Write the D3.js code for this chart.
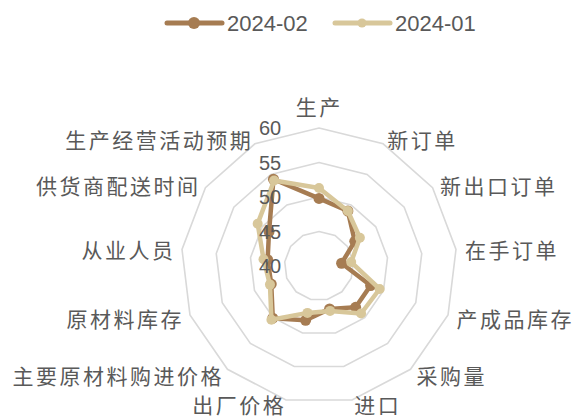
<!DOCTYPE html>
<html>
<head>
<meta charset="utf-8">
<script src="https://cdn.jsdelivr.net/npm/d3@7"></script>
<style>
  html, body { margin: 0; padding: 0; background: #ffffff; }
  svg { display: block; }
</style>
</head>
<body>
<svg id="chart" width="573" height="419"></svg>
<script>
const categories = ['生产','新订单','新出口订单','在手订单','产成品库存','采购量','进口','出厂价格','主要原材料购进价格','原材料库存','从业人员','供货商配送时间','生产经营活动预期'];
const seriesNames = ['2024-02', '2024-01'];
const feb2024 = [49.8, 49.0, 46.3, 43.3, 48.0, 48.0, 46.4, 48.1, 50.1, 47.4, 47.5, 48.8, 54.2];
const jan2024 = [51.3, 49.0, 47.2, 44.7, 49.4, 49.2, 46.7, 47.0, 50.4, 47.6, 48.1, 50.8, 54.0];
const tickValues = [40, 45, 50, 55, 60];

const colors = ['#a67c52', '#d8c79a'];
const W = 573, H = 419;
const cx = 319, cy = 266, R = 138;
const svg = d3.select('#chart');

const rScale = d3.scaleLinear().domain([40, 60]).range([0, R]);
const angle = d3.scaleLinear().domain([0, categories.length]).range([0, 2 * Math.PI]);
const pt = (i, r) => [cx + r * Math.sin(angle(i)), cy - r * Math.cos(angle(i))];

// grid rings
const g = svg.append('g');
tickValues.filter(v => v > 40).forEach(v => {
  const pts = categories.map((c, i) => pt(i, rScale(v)));
  g.append('path')
    .attr('d', d3.line().curve(d3.curveLinearClosed)(pts))
    .attr('fill', 'none')
    .attr('stroke', '#d9d9d9')
    .attr('stroke-width', 1.6);
});

// series
const data = [feb2024, jan2024];
const radii = [5.5, 5];
data.forEach((vals, s) => {
  const pts = vals.map((v, i) => pt(i, rScale(v)));
  svg.append('path')
    .attr('d', d3.line().curve(d3.curveLinearClosed)(pts))
    .attr('fill', 'none')
    .attr('stroke', colors[s])
    .attr('stroke-width', 4.5)
    .attr('stroke-linejoin', 'round');
  svg.selectAll(null).data(pts).enter().append('circle')
    .attr('cx', d => d[0]).attr('cy', d => d[1])
    .attr('r', radii[s]).attr('fill', colors[s]);
});

// tick labels
svg.selectAll(null).data(tickValues).enter().append('text')
  .attr('x', cx - 49)
  .attr('y', d => cy - rScale(d))
  .attr('dy', '0.36em')
  .attr('text-anchor', 'middle')
  .attr('font-family', '"Liberation Sans", Arial, sans-serif')
  .attr('font-size', 20)
  .attr('fill', '#595959')
  .text(d => d);

// category labels
const ls = 2.5;
categories.forEach((c, i) => {
  const a = angle(i);
  const s = Math.sin(a), co = Math.cos(a);
  const [x, y] = pt(i, R + 9);
  const t = svg.append('text')
    .attr('font-family', '"Noto Sans CJK SC", sans-serif')
    .attr('font-size', 21)
    .attr('letter-spacing', ls + 'px')
    .attr('fill', '#595959')
    .text(c);
  if (Math.abs(s) < 0.1) {
    t.attr('x', x - 1 + ls / 2).attr('y', y - 3.6).attr('text-anchor', 'middle');
  } else {
    const anchor = s > 0 ? 'start' : 'end';
    const base = Math.min(y + 1.8 + 2.6 * co + 7.8, H - 6.5);
    t.attr('x', s > 0 ? x : x + ls).attr('y', base).attr('text-anchor', anchor);
  }
});

// legend
const legendItems = [{x: 167, name: seriesNames[0], c: colors[0], r: 6}, {x: 335, name: seriesNames[1], c: colors[1], r: 4.5}];
legendItems.forEach(d => {
  svg.append('line').attr('x1', d.x).attr('x2', d.x + 55).attr('y1', 23).attr('y2', 23)
    .attr('stroke', d.c).attr('stroke-width', 5).attr('stroke-linecap', 'round');
  svg.append('circle').attr('cx', d.x + 27).attr('cy', 23).attr('r', d.r).attr('fill', d.c);
  svg.append('text').attr('x', d.x + 60).attr('y', 31)
    .attr('font-family', '"Liberation Sans", Arial, sans-serif')
    .attr('font-size', 22).attr('fill', '#595959').text(d.name);
});
</script>
</body>
</html>
